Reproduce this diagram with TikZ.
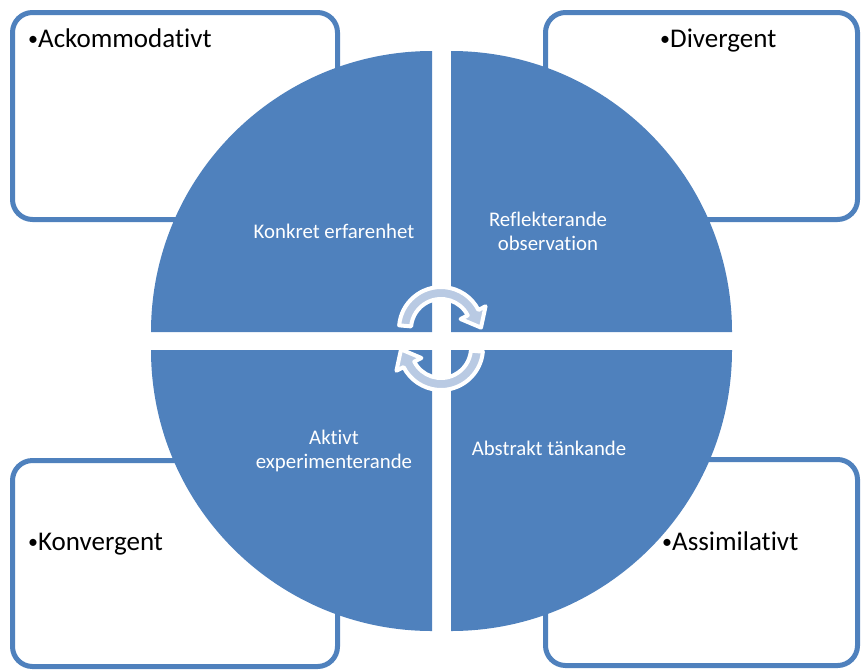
\documentclass[tikz,border=0pt]{standalone}
\usepackage{fontspec}
\setmainfont{Carlito}[Ligatures={NoCommon}]
\definecolor{accent}{HTML}{4F81BD}
\definecolor{arrowfill}{HTML}{B9CAE3}
\newcommand{\smallbul}{\raisebox{1.5pt}{\fontsize{20}{24}\selectfont•}}
\begin{document}
\begin{tikzpicture}[x=1pt,y=-1pt,
  cornerbox/.style={draw=accent, line width=5pt, fill=white, rounded corners=20pt, inner sep=0pt, outer sep=0pt},
  quad/.style={fill=accent},
  boxlabel/.style={anchor=base west, font=\fontsize{27}{31}\selectfont, text=black, inner sep=0pt},
  quadlabel/.style={align=center, font=\fontsize{20.8}{24}\selectfont, text=white, inner sep=0pt},
  cyc/.style={fill=arrowfill, draw=white, line width=4pt, line join=round}]
\useasboundingbox (0,0) rectangle (861,670);
% corner boxes
\node[cornerbox, minimum width=325pt, minimum height=207pt] (tl) at (175,116) {};
\node[cornerbox, minimum width=312pt, minimum height=207pt] (tr) at (701.5,116) {};
\node[cornerbox, minimum width=325pt, minimum height=206pt] (bl) at (175,563.5) {};
\node[cornerbox, minimum width=312pt, minimum height=206pt] (br) at (701.5,562.5) {};
% box labels
\node[boxlabel] (lacc) at (28,47) {\smallbul Ackommodativt};
\node[boxlabel] (ldiv) at (660,47) {\smallbul Divergent};
\node[boxlabel] (lkon) at (28,550) {\smallbul Konvergent};
\node[boxlabel] (lass) at (662,550) {\smallbul Assimilativt};
% quadrants
\fill[quad] (432,332) -- (151,332) arc[start angle=180, end angle=270, radius=281] -- cycle;
\fill[quad] (451,332) -- (451,51) arc[start angle=270, end angle=360, radius=281] -- cycle;
\fill[quad] (451,350) -- (732,350) arc[start angle=0, end angle=90, radius=281] -- cycle;
\fill[quad] (432,350) -- (432,631) arc[start angle=90, end angle=180, radius=281] -- cycle;
% quadrant labels
\node[quadlabel] (ke) at (334,231.5) {Konkret erfarenhet};
\node[quadlabel] (ro) at (548,231.5) {Reflekterande\\observation};
\node[quadlabel] (ae) at (334,450.5) {Aktivt\\experimenterande};
\node[quadlabel] (at) at (549,448) {Abstrakt tänkande};
% cycle arrows
\begin{scope}[shift={(441,329)}]
\path[cyc] (-175:42) arc[start angle=-175, end angle=-27, radius=42] -- (-27:50) -- (-2:40) -- (-27:22) -- (-27:30) arc[start angle=-27, end angle=-175, radius=30] -- cycle;
\end{scope}
\begin{scope}[shift={(441,348)}, rotate=180]
\path[cyc] (-175:42) arc[start angle=-175, end angle=-27, radius=42] -- (-27:50) -- (-2:40) -- (-27:22) -- (-27:30) arc[start angle=-27, end angle=-175, radius=30] -- cycle;
\end{scope}
\end{tikzpicture}
\end{document}
